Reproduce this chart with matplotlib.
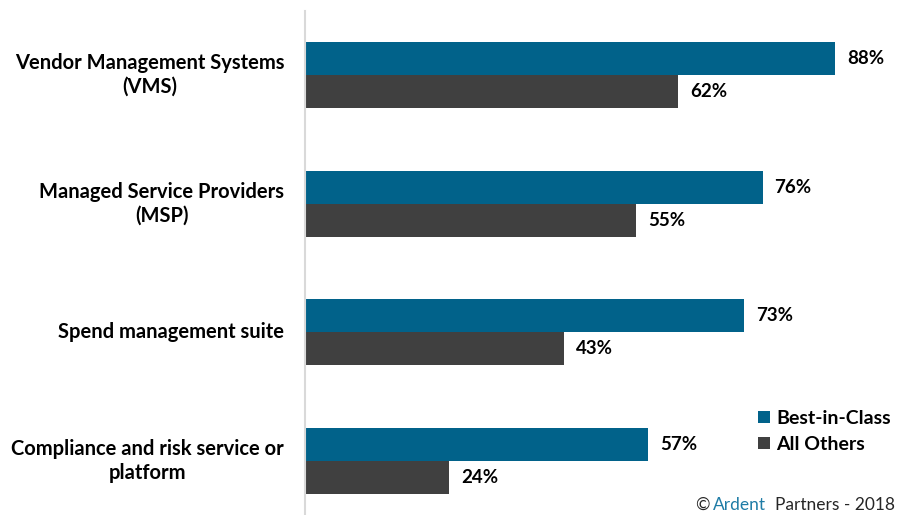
import numpy as np
import matplotlib.pyplot as plt

plt.rcParams['font.family'] = ['Lato', 'DejaVu Sans']

categories = ['Vendor Management Systems\n(VMS)',
              'Managed Service Providers\n(MSP)',
              'Spend management suite',
              'Compliance and risk service or\nplatform']
best_in_class = [88, 76, 73, 57]
all_others = [62, 55, 43, 24]

blue = '#01628a'
dark = '#404040'

fig = plt.figure(figsize=(8.97, 5.15), dpi=100)
# axes span from x=305px to the right edge; bottom runs past the figure edge
ax = fig.add_axes([305 / 897, (515 - 525.5) / 515, 592 / 897, 515 / 515])

y = np.arange(len(categories))
h = 0.256
ax.barh(y - h / 2, best_in_class, height=h, color=blue, label='Best-in-Class')
ax.barh(y + h / 2, all_others, height=h, color=dark, label='All Others')

for i in range(len(categories)):
    ax.text(best_in_class[i] + 2, y[i] - h / 2, '{}%'.format(best_in_class[i]),
            va='center', ha='left', fontsize=13.5, fontweight='bold', color='black')
    ax.text(all_others[i] + 2, y[i] + h / 2, '{}%'.format(all_others[i]),
            va='center', ha='left', fontsize=13.5, fontweight='bold', color='black')

ax.set_xlim(0, 592 / 6.02)
ax.set_ylim(len(categories) - 0.5, -0.5)
ax.set_yticks(y)
ax.set_yticklabels(categories, fontsize=14.5, fontweight='bold',
                   multialignment='center', linespacing=1.25, va='center')
ax.tick_params(axis='y', length=0, pad=15)
ax.set_xticks([])
for s in ['top', 'right', 'bottom']:
    ax.spines[s].set_visible(False)
ax.spines['left'].set_color('#d9d9d9')
ax.spines['left'].set_linewidth(1.5)

leg = fig.legend(loc='upper left', bbox_to_anchor=(758 / 897, 1 - 410 / 515),
                 frameon=False, handlelength=0.6, handleheight=0.6,
                 handletextpad=0.35, labelspacing=0.45, borderpad=0,
                 borderaxespad=0, prop={'weight': 'bold', 'size': 14})

ty = 1 - 505 / 515
fig.text(695 / 897, ty, '\u00a9', fontsize=12.5, color='#262626', va='center')
fig.text(713 / 897, ty, 'Ardent', fontsize=12.5, color='#1f7ca6', va='center')
fig.text(775 / 897, ty, 'Partners - 2018', fontsize=12.5, color='#262626', va='center')

fig.savefig('out.png', dpi=100)
